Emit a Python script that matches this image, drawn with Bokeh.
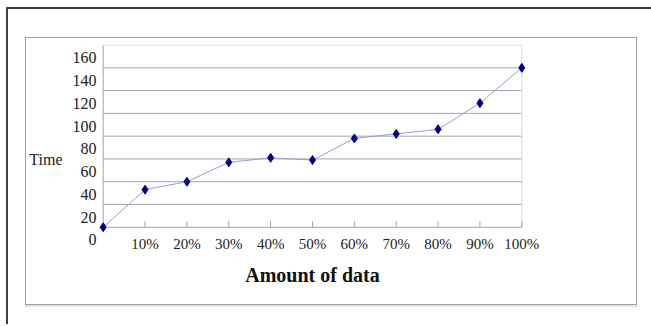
from bokeh.plotting import figure
from bokeh.models import FixedTicker, Range1d
from bokeh.layouts import column
from bokeh.embed import file_html
from bokeh.resources import INLINE

# ---- data ----
pct = [0, 10, 20, 30, 40, 50, 60, 70, 80, 90, 100]
x_tick_labels = ["", "10%", "20%", "30%", "40%", "50%", "60%", "70%", "80%", "90%", "100%"]
time_vals = [0, 33, 40, 57, 61, 59, 78, 82, 86, 109, 140]
y_ticks = [0, 20, 40, 60, 80, 100, 120, 140, 160]
x_title = "Amount of data"
y_title = "Time"

FONT = "Liberation Serif"
GRID = "#a6a6a6"
LIGHT = "#d6d6d6"

p = figure(width=610, height=286, output_backend="svg", toolbar_location=None,
           x_range=Range1d(-1.6, 101.6), y_range=Range1d(-5.5, 160.5))
p.margin = (-20, 0, 0, 0)
p.min_border_left = 67
p.min_border_right = 108
p.min_border_top = 26
p.min_border_bottom = 71
p.background_fill_color = "white"
p.border_fill_color = None
p.outline_line_color = None
p.xgrid.grid_line_color = None
p.ygrid.grid_line_color = None

# x axis
xa = p.xaxis[0]
xa.ticker = FixedTicker(ticks=pct)
xa.major_label_overrides = {v: s for v, s in zip(pct, x_tick_labels)}
xa.major_tick_in = 0
xa.major_tick_out = 0
xa.minor_tick_line_color = None
xa.axis_line_color = None
xa.major_label_text_font = FONT
xa.major_label_text_font_size = "15px"
xa.major_label_text_color = "#222222"
xa.major_label_standoff = 2
xa.axis_label = x_title
xa.axis_label_text_font = FONT
xa.axis_label_text_font_style = "bold"
xa.axis_label_text_font_size = "20px"
xa.axis_label_text_color = "#111111"
xa.axis_label_standoff = 9

# y axis
ya = p.yaxis[0]
ya.ticker = FixedTicker(ticks=y_ticks)
ya.major_label_overrides = {v: "\n" + str(v) for v in y_ticks}
ya.major_tick_in = 0
ya.major_tick_out = 0
ya.minor_tick_line_color = None
ya.axis_line_color = None
ya.major_label_text_font = FONT
ya.major_label_text_font_size = "16px"
ya.major_label_text_line_height = 1.5
ya.major_label_text_color = "#222222"
ya.major_label_standoff = 0
ya.axis_label = "\n\n" + y_title
ya.axis_label_orientation = "horizontal"
ya.axis_label_text_font = FONT
ya.axis_label_text_font_style = "normal"
ya.axis_label_text_font_size = "16px"
ya.axis_label_text_color = "#222222"
ya.axis_label_standoff = 7

# gridlines, axis lines and tick marks through the data scales
inner_ticks = y_ticks[:-1]
p.segment(x0=[0] * len(inner_ticks), x1=[100] * len(inner_ticks),
          y0=inner_ticks, y1=inner_ticks, line_color=GRID, line_width=1)
p.segment(x0=[0], x1=[100], y0=[y_ticks[-1]], y1=[y_ticks[-1]], line_color=LIGHT, line_width=1)
p.segment(x0=[0], x1=[0], y0=[0], y1=[y_ticks[-1]], line_color=GRID, line_width=1)
p.segment(x0=[100], x1=[100], y0=[0], y1=[y_ticks[-1]], line_color=LIGHT, line_width=1)
p.segment(x0=pct[1:], x1=pct[1:], y0=[0] * 10, y1=[5.5] * 10, line_color=GRID, line_width=1)

p.line(pct, time_vals, line_color="#9a9ad6", line_width=1)
p.scatter(pct, time_vals, marker="diamond", size=9, fill_color="#000080", line_color="#000080")

inner = column(p, styles={"border": "1px solid #a0a0a0",
                          "box-shadow": "0 2px 0 #e4e4e4"})
outer = column(inner, styles={"margin-left": "6px", "margin-top": "7px",
                              "border": "none", "outline": "none",
                              "box-shadow": "inset 2px 2px 0 0 #404040",
                              "padding-left": "19px", "padding-top": "30px",
                              "padding-right": "14px",
                              "padding-bottom": "19px"})

open("out.html", "w").write(file_html(outer, INLINE))
